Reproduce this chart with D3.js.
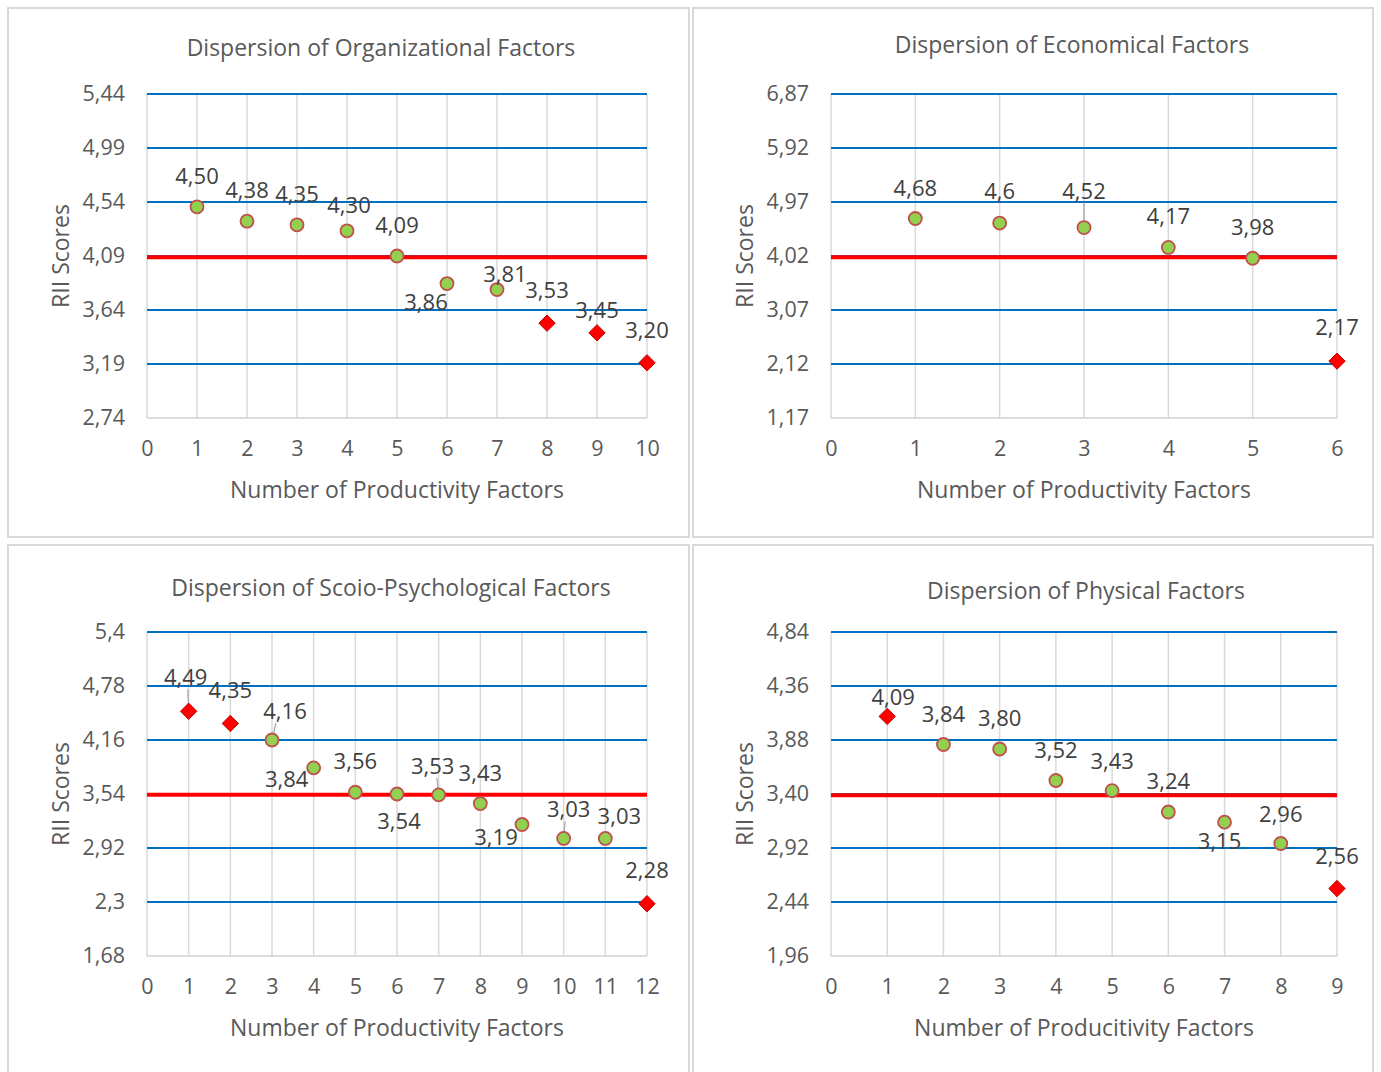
<!DOCTYPE html>
<html><head><meta charset="utf-8">
<script src="https://cdn.jsdelivr.net/npm/d3@7"></script>
<style>
html,body{margin:0;padding:0;background:#fff;}
svg{display:block;font-family:"Open Sans","Noto Sans",sans-serif;}
</style></head>
<body><svg id="c" width="1381" height="1072"></svg>
<script>
// ---------- DATA ----------
const titles = ["Dispersion of Organizational Factors","Dispersion of Economical Factors","Dispersion of Scoio-Psychological Factors","Dispersion of Physical Factors"];
const xTitles = ["Number of Productivity Factors","Number of Productivity Factors","Number of Productivity Factors","Number of Producitivity Factors"];
const yTitle = "RII Scores";

const orgValues = [4.50,4.38,4.35,4.30,4.09,3.86,3.81,3.53,3.45,3.20];
const orgLabels = ["4,50","4,38","4,35","4,30","4,09","3,86","3,81","3,53","3,45","3,20"];
const orgOutlier = [0,0,0,0,0,0,0,1,1,1];
const orgYTicks = [2.74,3.19,3.64,4.09,4.54,4.99,5.44];
const orgYTickLabels = ["2,74","3,19","3,64","4,09","4,54","4,99","5,44"];
const orgThreshold = 4.08;

const ecoValues = [4.68,4.6,4.52,4.17,3.98,2.17];
const ecoLabels = ["4,68","4,6","4,52","4,17","3,98","2,17"];
const ecoOutlier = [0,0,0,0,0,1];
const ecoYTicks = [1.17,2.12,3.07,4.02,4.97,5.92,6.87];
const ecoYTickLabels = ["1,17","2,12","3,07","4,02","4,97","5,92","6,87"];
const ecoThreshold = 4.00;

const socValues = [4.49,4.35,4.16,3.84,3.56,3.54,3.53,3.43,3.19,3.03,3.03,2.28];
const socLabels = ["4,49","4,35","4,16","3,84","3,56","3,54","3,53","3,43","3,19","3,03","3,03","2,28"];
const socOutlier = [1,1,0,0,0,0,0,0,0,0,0,1];
const socYTicks = [1.68,2.3,2.92,3.54,4.16,4.78,5.4];
const socYTickLabels = ["1,68","2,3","2,92","3,54","4,16","4,78","5,4"];
const socThreshold = 3.53;

const phyValues = [4.09,3.84,3.80,3.52,3.43,3.24,3.15,2.96,2.56];
const phyLabels = ["4,09","3,84","3,80","3,52","3,43","3,24","3,15","2,96","2,56"];
const phyOutlier = [1,0,0,0,0,0,0,0,1];
const phyYTicks = [1.96,2.44,2.92,3.40,3.88,4.36,4.84];
const phyYTickLabels = ["1,96","2,44","2,92","3,40","3,88","4,36","4,84"];
const phyThreshold = 3.39;

// ---------- LAYOUT (label offsets in px, leader flag) ----------
const orgLabelPos = [[0,-32],[0,-32],[0,-32],[2,-27],[0,-32],[-21,17],[8,-17],[0,-34],[0,-24],[0,-34]];
const orgLeader = [0,0,0,0,0,0,0,0,0,0];
const ecoLabelPos = [[0,-31],[0,-33],[0,-38],[0,-32],[0,-32],[0,-35]];
const ecoLeader = [0,0,1,0,0,0];
const socLabelPos = [[-3,-35],[0,-34],[13,-30],[-27,10],[0,-32],[2,26],[-6,-30],[0,-32],[-26,12],[5,-30],[14,-23],[0,-35]];
const socLeader = [1,0,1,0,0,0,1,0,0,1,0,0];
const phyLabelPos = [[6,-20],[0,-32],[0,-32],[0,-32],[0,-31],[0,-32],[-5,18],[0,-31],[0,-34]];
const phyLeader = [0,0,0,0,0,0,0,0,0];

const panels = [
  {frame:[8,8,681,529], plot:[147,94,647,418], title:[381,47], values:orgValues, labels:orgLabels, outlier:orgOutlier, yTicks:orgYTicks, yTickLabels:orgYTickLabels, thr:orgThreshold, lpos:orgLabelPos, leader:orgLeader, xTitle:xTitles[0], t:titles[0]},
  {frame:[693,8,680,529], plot:[831,94,1337,418], title:[1072,44], values:ecoValues, labels:ecoLabels, outlier:ecoOutlier, yTicks:ecoYTicks, yTickLabels:ecoYTickLabels, thr:ecoThreshold, lpos:ecoLabelPos, leader:ecoLeader, xTitle:xTitles[1], t:titles[1]},
  {frame:[8,545,681,540], plot:[147,632,647,956], title:[391,587], values:socValues, labels:socLabels, outlier:socOutlier, yTicks:socYTicks, yTickLabels:socYTickLabels, thr:socThreshold, lpos:socLabelPos, leader:socLeader, xTitle:xTitles[2], t:titles[2]},
  {frame:[693,545,680,540], plot:[831,632,1337,956], title:[1086,590], values:phyValues, labels:phyLabels, outlier:phyOutlier, yTicks:phyYTicks, yTickLabels:phyYTickLabels, thr:phyThreshold, lpos:phyLabelPos, leader:phyLeader, xTitle:xTitles[3], t:titles[3]}
];

const svg = d3.select("#c");
svg.append("rect").attr("width",1381).attr("height",1072).attr("fill","#fff");

panels.forEach(p => {
  const g = svg.append("g");
  const [fx,fy,fw,fh] = p.frame;
  g.append("rect").attr("x",fx).attr("y",fy).attr("width",fw).attr("height",fh)
    .attr("fill","#fff").attr("stroke","#d9d9d9").attr("stroke-width",2);
  const [x0,y0,x1,y1] = p.plot;
  const n = p.values.length;
  const x = d3.scaleLinear().domain([0,n]).range([x0,x1]);
  const yMin = p.yTicks[0], yMax = p.yTicks[p.yTicks.length-1];
  const y = d3.scaleLinear().domain([yMin,yMax]).range([y1,y0]);

  // vertical gridlines
  const xt = d3.range(0,n+1);
  g.append("g").selectAll("line").data(xt).join("line")
    .attr("x1",d=>x(d)).attr("x2",d=>x(d)).attr("y1",y0).attr("y2",y1)
    .attr("stroke","#d9d9d9").attr("stroke-width",1.5);
  // horizontal gridlines (blue), bottom axis gray
  g.append("g").selectAll("line").data(p.yTicks.slice(1)).join("line")
    .attr("x1",x0).attr("x2",x1).attr("y1",d=>y(d)).attr("y2",d=>y(d))
    .attr("stroke","#0070c0").attr("stroke-width",2);
  g.append("line").attr("x1",x0).attr("x2",x1).attr("y1",y(yMin)).attr("y2",y(yMin))
    .attr("stroke","#d0d0d0").attr("stroke-width",1.5);

  // y tick labels
  const yAxis = d3.axisLeft(y).tickValues(p.yTicks).tickFormat((d,i)=>p.yTickLabels[i]).tickSize(0).tickPadding(22);
  const ya = g.append("g").attr("transform",`translate(${x0},0)`).call(yAxis);
  ya.select(".domain").remove();
  ya.selectAll("text").attr("font-size",21.5).attr("fill","#595959").attr("font-family",'"Open Sans",sans-serif');

  const xAxis = d3.axisBottom(x).tickValues(xt).tickFormat(d3.format("d")).tickSize(0).tickPadding(23);
  const xa = g.append("g").attr("transform",`translate(0,${y1})`).call(xAxis);
  xa.select(".domain").remove();
  xa.selectAll("text").attr("font-size",21.5).attr("fill","#595959").attr("font-family",'"Open Sans",sans-serif');

  // titles
  g.append("text").attr("x",p.title[0]).attr("y",p.title[1]).attr("text-anchor","middle").attr("dominant-baseline","central")
    .attr("font-size",23).attr("fill","#595959").text(p.t);
  g.append("text").attr("x",(x0+x1)/2).attr("y",y1+71).attr("text-anchor","middle").attr("dominant-baseline","central")
    .attr("font-size",23).attr("fill","#595959").text(p.xTitle);
  g.append("text").attr("transform",`translate(${x0-87},${(y0+y1)/2}) rotate(-90)`).attr("text-anchor","middle").attr("dominant-baseline","central")
    .attr("font-size",23).attr("fill","#595959").text(yTitle);

  // threshold line
  g.append("line").attr("x1",x0).attr("x2",x1).attr("y1",y(p.thr)).attr("y2",y(p.thr))
    .attr("stroke","#ff0000").attr("stroke-width",4);

  const pts = p.values.map((v,i)=>({i:i+1,v,lab:p.labels[i],out:p.outlier[i],off:p.lpos[i],leader:p.leader[i]}));

  // leader lines
  g.append("g").selectAll("line").data(pts.filter(d=>d.leader)).join("line")
    .attr("x1",d=>x(d.i)+d.off[0]*0.3).attr("y1",d=>y(d.v)+d.off[1]+13)
    .attr("x2",d=>x(d.i)).attr("y2",d=>y(d.v))
    .attr("stroke","#a6a6a6").attr("stroke-width",1.2);

  // markers
  const mg = g.append("g");
  mg.selectAll("circle").data(pts.filter(d=>!d.out)).join("circle")
    .attr("cx",d=>x(d.i)).attr("cy",d=>y(d.v)).attr("r",6.5)
    .attr("fill","#92d050").attr("stroke","#c0504d").attr("stroke-width",1.8);
  mg.selectAll("path").data(pts.filter(d=>d.out)).join("path")
    .attr("d",d3.symbol().type(d3.symbolDiamond2).size(170))
    .attr("transform",d=>`translate(${x(d.i)},${y(d.v)})`)
    .attr("fill","#ff0000").attr("stroke","#c00000").attr("stroke-width",1);

  // data labels
  g.append("g").selectAll("text").data(pts).join("text")
    .attr("x",d=>x(d.i)+d.off[0]).attr("y",d=>y(d.v)+d.off[1])
    .attr("text-anchor","middle").attr("dominant-baseline","central")
    .attr("font-size",22).attr("fill","#404040").text(d=>d.lab);
});
</script></body></html>
